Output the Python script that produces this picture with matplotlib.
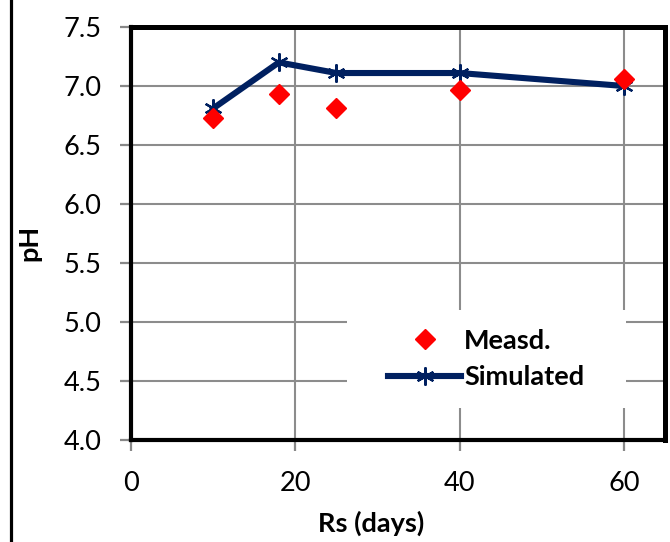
import matplotlib
matplotlib.use('Agg')
import matplotlib.pyplot as plt
from matplotlib.patches import Rectangle

plt.rcParams['font.family'] = ['Lato', 'DejaVu Sans']

# data
rs_days = [10, 18, 25, 40, 60]
ph_measured = [6.73, 6.93, 6.81, 6.97, 7.06]
ph_simulated = [6.81, 7.20, 7.11, 7.11, 7.00]

xticks = [0, 20, 40, 60]
yticks = [4.0, 4.5, 5.0, 5.5, 6.0, 6.5, 7.0, 7.5]

fig = plt.figure(figsize=(6.7, 5.42), dpi=100)
ax = fig.add_axes([131/670, 1 - 440/542, 534/670, 413/542])

# outer chart border (cropped at right and bottom)
fig.patches.append(Rectangle((11/670, -0.2), 1.5, 1.2 + (1 - 13/542), transform=fig.transFigure,
                             fill=False, edgecolor='black', linewidth=2.3, clip_on=False))

ax.plot(rs_days, ph_measured, linestyle='none', marker='D', ms=10.5, color='#FF0000',
        label='Measd.', zorder=4)
ax.plot(rs_days, ph_simulated, color='#002060', linewidth=4.4, marker=(6, 2, 0), ms=13,
        mew=1.6, label='Simulated', zorder=3)

ax.set_xlim(0, 65)
ax.set_ylim(4.0, 7.5)
ax.set_xticks(xticks)
ax.set_yticks(yticks)
ax.set_yticklabels([f'{v:.1f}' for v in yticks])
ax.tick_params(axis='both', labelsize=19.5, colors='#888888', labelcolor='black', width=1.6, length=8)
ax.tick_params(axis='y', pad=13)
ax.tick_params(axis='x', pad=14)

ax.grid(True, color='#8c8c8c', linewidth=1.5)
ax.set_axisbelow(True)

for side in ['top', 'right', 'bottom', 'left']:
	ax.spines[side].set_color('black')
	ax.spines[side].set_linewidth(3)
ax.spines['top'].set_linewidth(3.6)
ax.spines['right'].set_linewidth(3.6)

ax.set_xlabel('Rs (days)', fontsize=19.5, fontweight='bold')
ax.set_ylabel('pH', fontsize=19.5, fontweight='bold')
ax.xaxis.set_label_coords(0.45, -0.172)
ax.yaxis.set_label_coords(-0.168, 0.477)

# white legend background that breaks the gridlines
ax.add_patch(Rectangle((0.404, 0.077), 0.523, 0.238, transform=ax.transAxes,
                       facecolor='white', edgecolor='none', zorder=1.8))
leg = ax.legend(loc='center', bbox_to_anchor=(0.665, 0.196), frameon=False,
                prop={'size': 19.5, 'weight': 'bold'}, handlelength=2.7, handletextpad=0.1,
                labelspacing=0.45)

fig.savefig('out.png', dpi=100)
